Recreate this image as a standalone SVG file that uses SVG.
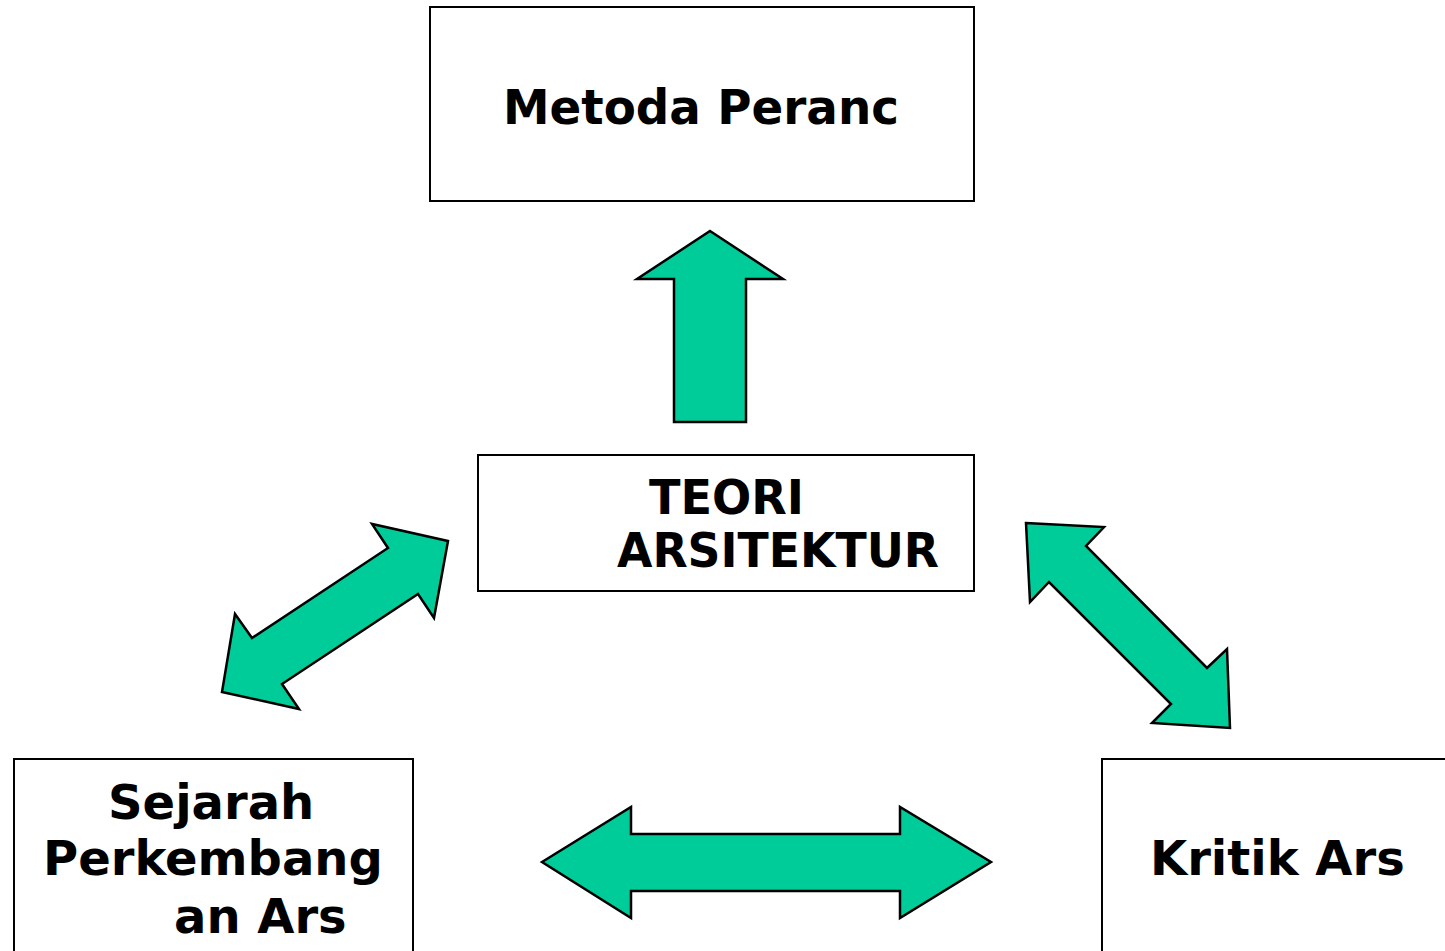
<svg xmlns="http://www.w3.org/2000/svg" width="1445" height="951" viewBox="0 0 1445 951">
<style>
.box{fill:#ffffff;stroke:#000000;stroke-width:2}
.arrow{fill:#00CC99;stroke:#000000;stroke-width:2.5;stroke-linejoin:miter}
.lbl{font-family:"DejaVu Sans","Verdana",sans-serif;font-weight:bold;font-size:48px;fill:#000000}
</style>
<rect width="1445" height="951" fill="#ffffff"/>
<g id="node-metoda">
<rect class="box" x="430" y="7" width="544" height="194"/>
<text class="lbl" x="503" y="124" textLength="396" lengthAdjust="spacingAndGlyphs">Metoda Peranc</text>
</g>
<g id="node-teori">
<rect class="box" x="478" y="455" width="496" height="136"/>
<text class="lbl" x="649" y="514" textLength="155" lengthAdjust="spacingAndGlyphs">TEORI</text>
<text class="lbl" x="617" y="567" textLength="322" lengthAdjust="spacingAndGlyphs">ARSITEKTUR</text>
</g>
<g id="node-sejarah">
<rect class="box" x="14" y="759" width="399" height="210"/>
<text class="lbl" x="108" y="819">Sejarah</text>
<text class="lbl" x="43" y="875">Perkembang</text>
<text class="lbl" x="174" y="933">an Ars</text>
</g>
<g id="node-kritik">
<rect class="box" x="1102" y="759" width="360" height="210"/>
<text class="lbl" x="1150" y="875">Kritik Ars</text>
</g>
<g id="connectors">
<polygon class="arrow" points="710,231 783,279 746,279 746,422 674,422 674,279 637,279"/>
<polygon class="arrow" points="542,862 631,807 631,834 900,834 900,807 991,862 900,918 900,891 631,891 631,918"/>
<polygon class="arrow" points="448,541 434,618 418,594 282,684 299,709 222,692 235,614 252,638 388,548 372,524"/>
<polygon class="arrow" points="1026,523 1104,527 1086,546 1207,668 1227,649 1230,728 1152,723 1171,704 1049,582 1030,602"/>
</g>
</svg>
